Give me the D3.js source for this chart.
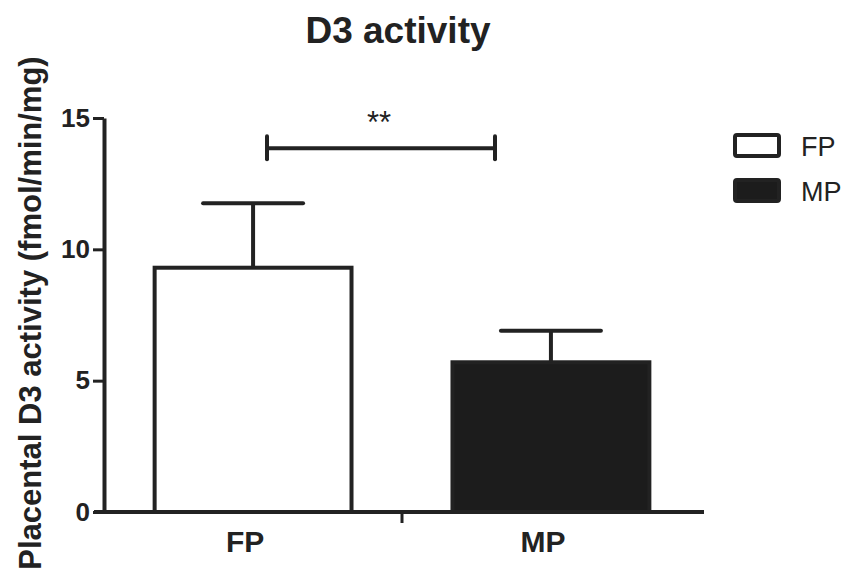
<!DOCTYPE html>
<html><head><meta charset="utf-8">
<script src="https://cdn.jsdelivr.net/npm/d3@7"></script>
<style>body{margin:0;background:#fff}svg{display:block}text{font-family:"Liberation Sans",Arial,sans-serif;fill:#222}</style>
</head><body>
<script>
const categories = ["FP", "MP"];
const means = [9.3, 5.7];
const errors = [2.45, 1.2];
const fills = ["#ffffff", "#1c1c1c"];
const yTicks = [0, 5, 10, 15];
const sigLabel = "**";
const sigY = 13.85;

const W = 858, H = 575;
const svg = d3.select("body").append("svg").attr("width", W).attr("height", H);
const ink = "#222";

const x = d3.scaleBand().domain(categories).range([104, 700]).paddingInner(0.339).paddingOuter(0.17);
const y = d3.scaleLinear().domain([0, 15]).range([512, 118]);

// title
svg.append("text").attr("x", 398).attr("y", 43).attr("text-anchor", "middle")
  .attr("font-size", 37).attr("font-weight", "bold").text("D3 activity");

// y label
svg.append("text").attr("transform", "translate(41,313) rotate(-90)").attr("text-anchor", "middle")
  .attr("font-size", 31).attr("font-weight", "bold").text("Placental D3 activity (fmol/min/mg)");

// bars
svg.selectAll("rect.bar").data(categories).join("rect").attr("class", "bar")
  .attr("x", d => x(d)).attr("width", x.bandwidth())
  .attr("y", (d, i) => y(means[i])).attr("height", (d, i) => y(0) - y(means[i]))
  .attr("fill", (d, i) => fills[i]).attr("stroke", ink).attr("stroke-width", 4);

// error bars
const capW = 100;
categories.forEach((c, i) => {
  const cx = x(c) + x.bandwidth() / 2;
  svg.append("line").attr("x1", cx).attr("x2", cx).attr("y1", y(means[i])).attr("y2", y(means[i] + errors[i]))
    .attr("stroke", ink).attr("stroke-width", 4);
  svg.append("line").attr("x1", cx - capW / 2).attr("x2", cx + capW / 2)
    .attr("y1", y(means[i] + errors[i])).attr("y2", y(means[i] + errors[i]))
    .attr("stroke", ink).attr("stroke-width", 4).attr("stroke-linecap", "round");
});

// y axis
const yAxis = svg.append("g").attr("transform", "translate(104,0)")
  .call(d3.axisLeft(y).tickValues(yTicks).tickSize(11).tickSizeOuter(0).tickPadding(3));
yAxis.select(".domain").attr("stroke", ink).attr("stroke-width", 4);
yAxis.selectAll(".tick line").attr("stroke", ink).attr("stroke-width", 3);
yAxis.selectAll(".tick text").attr("font-size", 26).attr("font-weight", "bold").attr("fill", ink)
  .attr("font-family", "Liberation Sans, Arial, sans-serif");

// x axis
svg.append("line").attr("x1", 94).attr("x2", 704).attr("y1", y(0)).attr("y2", y(0))
  .attr("stroke", ink).attr("stroke-width", 4);
const midX = (x("FP") + x.bandwidth() + x("MP")) / 2;
svg.append("line").attr("x1", midX).attr("x2", midX).attr("y1", y(0)).attr("y2", y(0) + 11)
  .attr("stroke", ink).attr("stroke-width", 3);
svg.selectAll("text.xl").data(categories).join("text").attr("class", "xl")
  .attr("x", d => x(d) + x.bandwidth() / 2 - 8).attr("y", 552).attr("text-anchor", "middle")
  .attr("font-size", 30).attr("font-weight", "bold").text(d => d);

// significance bracket
const bx1 = 267, bx2 = 495;
svg.append("line").attr("x1", bx1).attr("x2", bx2).attr("y1", y(sigY)).attr("y2", y(sigY))
  .attr("stroke", ink).attr("stroke-width", 4);
[bx1, bx2].forEach(bx => svg.append("line").attr("x1", bx).attr("x2", bx)
  .attr("y1", y(sigY) - 12).attr("y2", y(sigY) + 11).attr("stroke", ink).attr("stroke-width", 4)
  .attr("stroke-linecap", "round"));
svg.append("text").attr("x", 379).attr("y", 133).attr("text-anchor", "middle")
  .attr("font-size", 31).text(sigLabel);

// legend
categories.forEach((c, i) => {
  const ly = 135 + i * 45;
  svg.append("rect").attr("x", 735).attr("y", ly).attr("width", 44).attr("height", 21).attr("rx", 2)
    .attr("fill", fills[i]).attr("stroke", ink).attr("stroke-width", 4);
  svg.append("text").attr("x", 801).attr("y", ly + 21).attr("font-size", 27).text(c);
});
</script>
</body></html>
